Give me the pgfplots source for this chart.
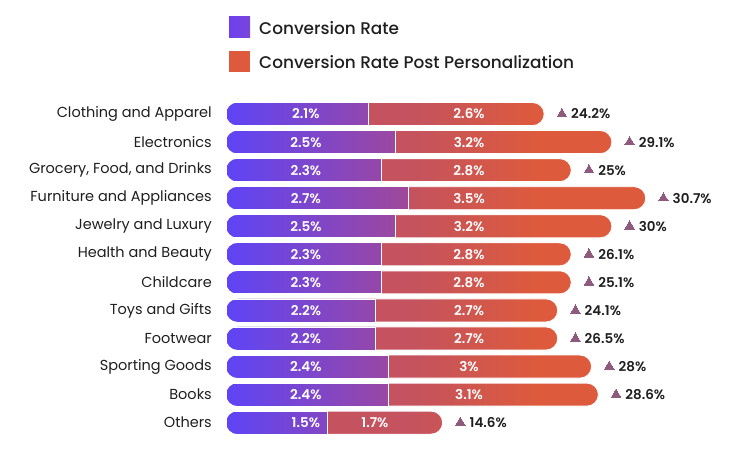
\documentclass[border=0pt]{standalone}
\usepackage{pgfplots}
\pgfplotsset{compat=1.18}
\usepackage{pgfplotstable}
\usepackage{fontspec}
\setmainfont{Poppins}
\newfontfamily\popmed{Poppins Medium}
\newfontfamily\popsemi{Poppins SemiBold}
\definecolor{cstart}{HTML}{5E44F6}
\definecolor{cmid}{HTML}{A0489A}
\definecolor{cmidb}{HTML}{C4535F}
\definecolor{corange}{HTML}{DD5A3C}
\definecolor{tri}{HTML}{8E5A7E}
\definecolor{txt}{HTML}{1F1F1F}
\definecolor{legpur}{HTML}{6B40EE}
\definecolor{legpur2}{HTML}{7C45DA}
\pgfdeclarehorizontalshading{segone}{100bp}{color(0bp)=(cstart); color(25bp)=(cstart); color(75bp)=(cmid); color(100bp)=(cmid)}
\pgfdeclarehorizontalshading{segtwo}{100bp}{color(0bp)=(cmidb); color(47bp)=(cmidb); color(62bp)=(corange); color(100bp)=(corange)}
\pgfdeclareplotmark{leftcap}{%
  \pgfpathmoveto{\pgfqpoint{-1pt}{-13pt}}%
  \pgfpathlineto{\pgfqpoint{-1pt}{13pt}}%
  \pgfpathlineto{\pgfqpoint{11.5pt}{13pt}}%
  \pgfpathlineto{\pgfqpoint{11.5pt}{11.5pt}}%
  \pgfpatharc{90}{270}{11.5pt}%
  \pgfpathlineto{\pgfqpoint{11.5pt}{-13pt}}%
  \pgfpathclose
  \pgfusepathqfill}
\pgfplotstableread{
row z a   b   tot inc  ax   bx
0   0 2.1 2.6 4.7 24.2 1.18 3.59
1   0 2.5 3.2 5.7 29.1 1.18 3.59
2   0 2.3 2.8 5.1 25   1.18 3.59
3   0 2.7 3.5 6.2 30.7 1.18 3.59
4   0 2.5 3.2 5.7 30   1.18 3.59
5   0 2.3 2.8 5.1 26.1 1.18 3.59
6   0 2.3 2.8 5.1 25.1 1.18 3.59
7   0 2.2 2.7 4.9 24.1 1.18 3.59
8   0 2.2 2.7 4.9 26.5 1.18 3.59
9   0 2.4 3   5.4 28   1.18 3.59
10  0 2.4 3.1 5.5 28.6 1.18 3.59
11  0 1.5 1.7 3.2 14.6 1.18 2.20
}\data
\begin{document}
\begin{tikzpicture}
\path[use as bounding box] (0,0) rectangle (732pt,453pt);
\begin{axis}[
  at={(226pt,16.3pt)}, anchor=south west,
  scale only axis, width=507.75pt, height=336.7pt,
  xmin=0, xmax=7.5, ymin=-0.5, ymax=11.5, y dir=reverse,
  clip=false,
  axis line style={draw=none}, tick style={draw=none},
  xtick=\empty,
  ytick={0,...,11},
  yticklabels={Clothing and Apparel, Electronics, {Grocery, Food, and Drinks}, Furniture and Appliances, Jewelry and Luxury, Health and Beauty, Childcare, Toys and Gifts, Footwear, Sporting Goods, Books, Others},
  yticklabel style={font=\fontsize{14.5}{16}\selectfont, text=txt, inner sep=0pt, xshift=-14pt},
  legend style={at={(axis description cs:0.0059,1.2495)}, anchor=north west, draw=none, fill=none, inner sep=0pt, row sep=13.5pt,
    nodes={inner sep=0pt, font=\popmed\fontsize{16.9}{18}\selectfont, text=txt},
    /tikz/every odd column/.append style={column sep=9pt}},
  legend cell align=left,
]
\addplot[forget plot, xbar, bar shift=0pt, bar width=23pt, draw=white, line width=0.8pt, shading=segtwo, rounded corners=11.5pt] table[x=tot, y=row] {\data};
\addplot[forget plot, xbar, bar shift=0pt, bar width=23pt, draw=white, line width=0.8pt, shading=segone] table[x=a, y=row] {\data};
\addplot[forget plot, only marks, mark=leftcap, mark options={fill=white, draw=none}] table[x=z, y=row] {\data};
\addplot[forget plot, draw=none, mark=none, nodes near coords={\pgfplotspointmeta\%}, point meta=explicit symbolic,
  every node near coord/.append style={anchor=center, text=white, font=\popsemi\fontsize{13.5}{15}\selectfont}] table[x=ax, y=row, meta=a] {\data};
\addplot[forget plot, draw=none, mark=none, nodes near coords={\pgfplotspointmeta\%}, point meta=explicit symbolic,
  every node near coord/.append style={anchor=center, text=white, font=\popsemi\fontsize{13.5}{15}\selectfont}] table[x=bx, y=row, meta=b] {\data};
\addplot[forget plot, only marks, mark=triangle*, mark size=5.5pt, mark options={fill=tri, draw=tri, line width=0pt, xshift=17.7pt},
  nodes near coords={\pgfplotspointmeta\%}, point meta=explicit symbolic,
  every node near coord/.append style={anchor=west, inner sep=0pt, xshift=9.3pt, text=txt, font=\popsemi\fontsize{13.5}{15}\selectfont}] table[x=tot, y=row, meta=inc] {\data};
\addlegendimage{legend image code/.code={\shade[draw=none, left color=legpur, right color=legpur2] (0pt,-8.5pt) rectangle (21pt,12.5pt);}}
\addlegendentry{Conversion Rate}
\addlegendimage{legend image code/.code={\fill[draw=none, fill=corange] (0pt,-8.5pt) rectangle (21pt,12.5pt);}}
\addlegendentry{Conversion Rate Post Personalization}
\end{axis}
\end{tikzpicture}
\end{document}
